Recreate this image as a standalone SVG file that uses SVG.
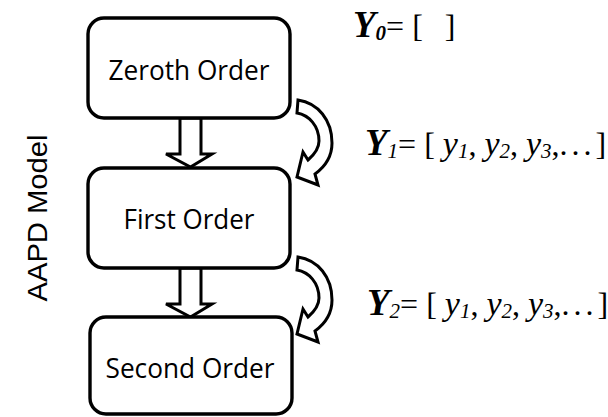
<svg xmlns="http://www.w3.org/2000/svg" width="608" height="417" viewBox="0 0 608 417">
  <defs>
    <style>
      .box { fill: #ffffff; stroke: #000000; stroke-width: 3.4; }
      .blk { fill: #ffffff; stroke: #000000; stroke-width: 3; stroke-linejoin: miter; }
      .lbl { font-family: "Open Sans", "Noto Sans", sans-serif; font-size: 28px; fill: #000; text-anchor: middle; }
      .side { font-family: "Liberation Sans", Arial, sans-serif; font-size: 28px; fill: #000; text-anchor: middle; }
      .eq { font-family: "Liberation Serif", "Times New Roman", serif; font-size: 32px; fill: #000; white-space: pre; }
      .Y { font-weight: bold; font-style: italic; font-size: 37px; }
      .it { font-style: italic; font-size: 34px; }
      .sub { font-style: italic; font-size: 21px; }
      .dots { letter-spacing: 4px; }
    </style>
    <!-- curved hollow arrow from one stage to the next -->
    <path id="loop" class="blk" d="M298,100 C318,103 332,120 332,143 C332,155 326,166 315,174 L318,185 L297,177 L303,152 L308,160 C315,154 319,148 319,141 C319,126 309,115 297,113 Z"/>
  </defs>

  <rect width="608" height="417" fill="#ffffff"/>

  <text class="side" transform="translate(47,218) rotate(-90)" textLength="167" lengthAdjust="spacingAndGlyphs">AAPD Model</text>

  <g id="connectors">
    <path class="blk" d="M180,118 L201,118 L201,154 L212,154 L190.5,167 L166,154 L180,154 Z"/>
    <path class="blk" d="M180,268 L201,268 L201,304 L212,304 L190.5,317 L166,304 L180,304 Z"/>
    <use href="#loop"/>
    <use href="#loop" transform="translate(0,157)"/>
  </g>

  <g id="zeroth">
    <rect class="box" x="88" y="18" width="202" height="100" rx="16"/>
    <text class="lbl" x="189" y="80" textLength="161" lengthAdjust="spacingAndGlyphs">Zeroth Order</text>
  </g>
  <g id="first">
    <rect class="box" x="88" y="168" width="202" height="100" rx="16"/>
    <text class="lbl" x="189" y="229" textLength="131" lengthAdjust="spacingAndGlyphs">First Order</text>
  </g>
  <g id="second">
    <rect class="box" x="90" y="317" width="202" height="97" rx="16"/>
    <text class="lbl" x="190" y="378" textLength="169" lengthAdjust="spacingAndGlyphs">Second Order</text>
  </g>

  <!-- output vectors: bold italic Y with subscript, then the bracketed list -->
  <g id="eq0">
    <text class="eq" x="353" y="37"><tspan class="Y">Y</tspan><tspan class="sub" font-weight="bold" dy="3">0</tspan><tspan dy="-3">= [</tspan><tspan dx="22">]</tspan></text>
  </g>
  <g id="eq1">
    <text class="eq" x="365" y="155"><tspan class="Y">Y</tspan><tspan class="sub" dy="3">1</tspan><tspan dy="-3">= [ </tspan><tspan class="it">y</tspan><tspan class="sub" dy="3">1</tspan><tspan dy="-3">, </tspan><tspan class="it">y</tspan><tspan class="sub" dy="3">2</tspan><tspan dy="-3">, </tspan><tspan class="it">y</tspan><tspan class="sub" dy="3">3</tspan><tspan dy="-3">,</tspan><tspan class="dots">...</tspan><tspan>]</tspan></text>
  </g>
  <g id="eq2">
    <text class="eq" x="367" y="315"><tspan class="Y">Y</tspan><tspan class="sub" dy="3">2</tspan><tspan dy="-3">= [ </tspan><tspan class="it">y</tspan><tspan class="sub" dy="3">1</tspan><tspan dy="-3">, </tspan><tspan class="it">y</tspan><tspan class="sub" dy="3">2</tspan><tspan dy="-3">, </tspan><tspan class="it">y</tspan><tspan class="sub" dy="3">3</tspan><tspan dy="-3">,</tspan><tspan class="dots">...</tspan><tspan>]</tspan></text>
  </g>
</svg>
